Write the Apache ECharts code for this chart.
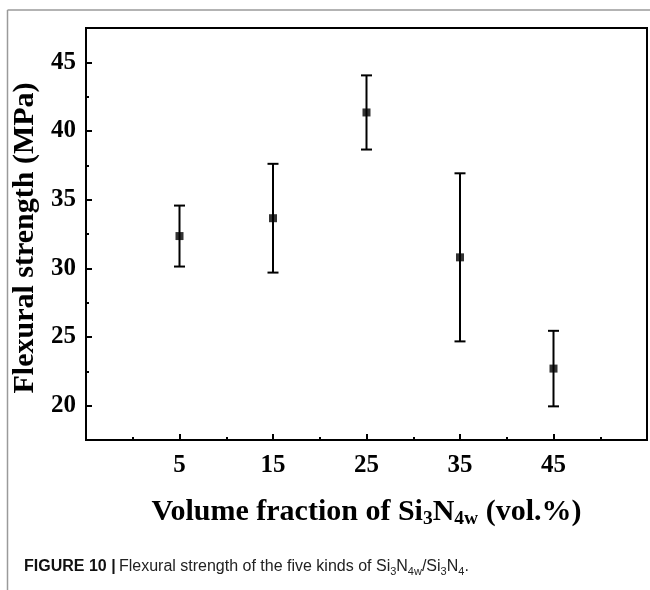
<!DOCTYPE html>
<html>
<head>
<meta charset="utf-8">
<script src="https://cdn.jsdelivr.net/npm/echarts@6/dist/echarts.min.js"></script>
<style>
  html, body { margin: 0; padding: 0; background: #fff; }
  #chart { width: 650px; height: 590px; }
</style>
</head>
<body>
<div id="chart"></div>
<script>
// values
const volumeFraction = [5, 15, 25, 35, 45];
const strengthMean = [32.35, 33.65, 41.35, 30.8, 22.7];
const strengthErr = [2.22, 3.96, 2.7, 6.12, 2.75];

const xMajorTicks = [5, 15, 25, 35, 45];
const xMinorTicks = [0, 10, 20, 30, 40, 50];
const yMajorTicks = [20, 25, 30, 35, 40, 45];
const yMinorTicks = [22.5, 27.5, 32.5, 37.5, 42.5];

const serif = '"Liberation Serif", "Times New Roman", serif';
const sans = '"Liberation Sans", Arial, sans-serif';

const chart = echarts.init(document.getElementById('chart'), null, {renderer: 'canvas'});

const pointData = volumeFraction.map((x, i) => [x, strengthMean[i]]);
const barData = volumeFraction.map((x, i) => [x, strengthMean[i] - strengthErr[i], strengthMean[i] + strengthErr[i]]);

function renderErrorBar(params, api) {
  const x = api.value(0);
  const lo = api.coord([x, api.value(1)]);
  const hi = api.coord([x, api.value(2)]);
  const w = 5.5;
  const style = {stroke: '#000', lineWidth: 2};
  return {
    type: 'group',
    children: [
      {type: 'line', shape: {x1: hi[0], y1: hi[1], x2: lo[0], y2: lo[1]}, style: style},
      {type: 'line', shape: {x1: hi[0] - w, y1: hi[1], x2: hi[0] + w, y2: hi[1]}, style: style},
      {type: 'line', shape: {x1: lo[0] - w, y1: lo[1], x2: lo[0] + w, y2: lo[1]}, style: style},
    ],
  };
}

const axisLine = {show: true, onZero: false, lineStyle: {color: '#000', width: 2}};
const hiddenLine = {show: false, onZero: false};

const option = {
  animation: false,
  grid: {
    left: 86, top: 28, right: 3, bottom: 150,
    show: true, borderColor: '#000', borderWidth: 2,
  },
  xAxis: [
    {
      type: 'value', min: -5, max: 55, position: 'bottom',
      axisLine: axisLine,
      axisTick: {inside: true, length: 6, lineStyle: {color: '#000', width: 2}, customValues: xMajorTicks},
      axisLabel: {
        customValues: xMajorTicks, margin: 13,
        color: '#000', fontFamily: serif, fontWeight: 'bold', fontSize: 25,
      },
      splitLine: {show: false},
      name: '{a|Volume fraction of Si}{s|3}{a|N}{s|4w}{a| (vol.%)}',
      nameLocation: 'middle', nameGap: 55,
      nameTextStyle: {
        color: '#000',
        rich: {
          a: {fontFamily: serif, fontWeight: 'bold', fontSize: 30, lineHeight: 34, color: '#000'},
          s: {fontFamily: serif, fontWeight: 'bold', fontSize: 19.5, lineHeight: 16, verticalAlign: 'bottom', color: '#000'},
        },
      },
    },
    {
      type: 'value', min: -5, max: 55, position: 'bottom',
      axisLine: hiddenLine,
      axisTick: {inside: true, length: 3, lineStyle: {color: '#000', width: 2}, customValues: xMinorTicks},
      axisLabel: {show: false},
      splitLine: {show: false},
    },
  ],
  yAxis: [
    {
      type: 'value', min: 17.5, max: 47.5, position: 'left',
      axisLine: axisLine,
      axisTick: {inside: true, length: 6, lineStyle: {color: '#000', width: 2}, customValues: yMajorTicks},
      axisLabel: {
        customValues: yMajorTicks, margin: 10,
        color: '#000', fontFamily: serif, fontWeight: 'bold', fontSize: 25,
      },
      splitLine: {show: false},
      name: 'Flexural strength (MPa)',
      nameLocation: 'middle', nameGap: 44,
      nameTextStyle: {color: '#000', fontFamily: serif, fontWeight: 'bold', fontSize: 30, padding: [0, 8, 0, 0]},
    },
    {
      type: 'value', min: 17.5, max: 47.5, position: 'left',
      axisLine: hiddenLine,
      axisTick: {inside: true, length: 3, lineStyle: {color: '#000', width: 2}, customValues: yMinorTicks},
      axisLabel: {show: false},
      splitLine: {show: false},
    },
  ],
  series: [
    {
      type: 'custom',
      renderItem: renderErrorBar,
      encode: {x: 0, y: [1, 2]},
      data: barData,
      z: 2,
    },
    {
      type: 'scatter',
      symbol: 'rect',
      symbolSize: 8,
      itemStyle: {color: '#000'},
      data: pointData,
      z: 3,
    },
  ],
  graphic: [
    {type: 'line', shape: {x1: 7.5, y1: 10, x2: 650, y2: 10}, style: {stroke: '#9a9a9a', lineWidth: 1.5}},
    {type: 'line', shape: {x1: 7.5, y1: 10, x2: 7.5, y2: 590}, style: {stroke: '#9a9a9a', lineWidth: 1.5}},
    {
      type: 'text', left: 24, top: 559,
      style: {
        text: '{b|FIGURE 10 |} {n|Flexural strength of the five kinds of Si}{s|3}{n|N}{s|4w}{n|/Si}{s|3}{n|N}{s|4}{n|.}',
        rich: {
          b: {fontFamily: sans, fontWeight: 'bold', fontSize: 16, lineHeight: 20, fill: '#111'},
          n: {fontFamily: sans, fontSize: 16, lineHeight: 20, fill: '#222'},
          s: {fontFamily: sans, fontSize: 11, lineHeight: 10, verticalAlign: 'bottom', fill: '#222'},
        },
      },
    },
  ],
};

chart.setOption(option);
</script>
</body>
</html>
